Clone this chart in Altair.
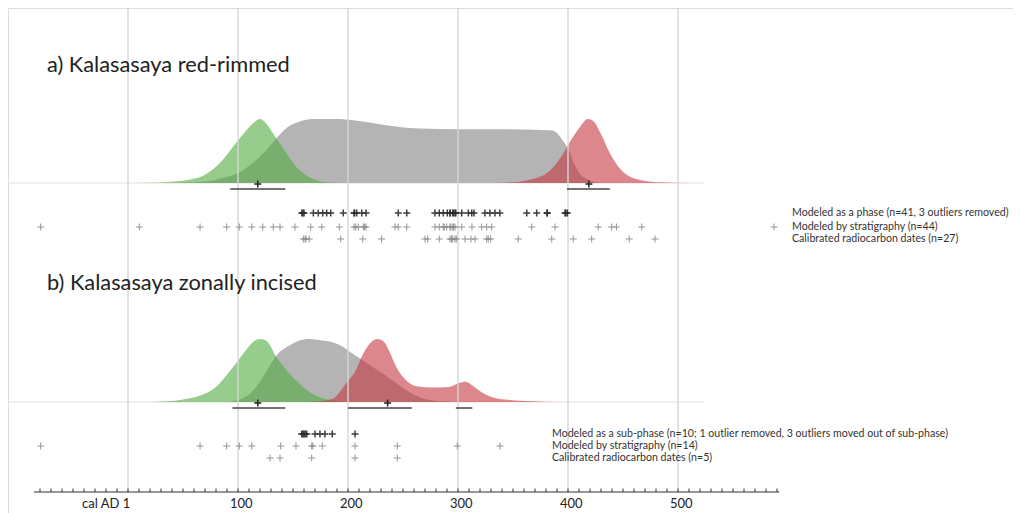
import altair as alt
import pandas as pd

# ---------------- data ----------------
# Density curves: calendar year AD and relative probability (peak = 1)
A_GREEN_YR = [0, 20, 40, 55, 70, 84, 96, 105, 113, 120, 126, 132, 136, 144, 153, 162, 172, 180, 195]
A_GREEN_P = [0, 0.005, 0.02, 0.05, 0.13, 0.32, 0.58, 0.77, 0.92, 1.0, 0.92, 0.77, 0.67, 0.47, 0.25, 0.12, 0.04, 0.01, 0]
A_GRAY_YR = [40, 60, 75, 84, 93, 102, 111, 120, 128, 135, 144, 156, 168, 190, 205, 225, 245, 265, 300, 340, 375, 386, 393, 397, 402, 406, 412, 420, 430]
A_GRAY_P = [0, 0.01, 0.03, 0.07, 0.11, 0.17, 0.28, 0.41, 0.56, 0.7, 0.86, 0.96, 1.0, 1.0, 0.98, 0.93, 0.88, 0.85, 0.84, 0.84, 0.83, 0.82, 0.72, 0.62, 0.47, 0.28, 0.12, 0.04, 0]
A_RED_YR = [335, 356, 365, 375, 384, 393, 402, 411, 418, 424, 429, 438, 447, 456, 468, 484, 510]
A_RED_P = [0, 0.02, 0.05, 0.1, 0.2, 0.39, 0.65, 0.88, 1.0, 0.95, 0.8, 0.47, 0.23, 0.1, 0.04, 0.01, 0]

B_GREEN_YR = [20, 35, 50, 65, 80, 93, 101, 108, 115, 120, 126, 135, 147, 159, 171, 184, 200]
B_GREEN_P = [0, 0.01, 0.04, 0.1, 0.24, 0.5, 0.68, 0.84, 0.97, 1.0, 0.97, 0.71, 0.45, 0.24, 0.1, 0.03, 0]
B_GRAY_YR = [90, 100, 110, 120, 128, 135, 145, 155, 165, 175, 186, 196, 204, 213, 222, 232, 242, 252, 262, 272, 285, 300]
B_GRAY_P = [0, 0.03, 0.12, 0.32, 0.55, 0.74, 0.88, 0.97, 1.0, 0.98, 0.95, 0.87, 0.77, 0.67, 0.56, 0.45, 0.32, 0.2, 0.1, 0.04, 0.01, 0]
B_RED_YR = [160, 174, 186, 198, 207, 213, 221, 227, 233, 238, 244, 253, 262, 277, 292, 301, 307, 313, 321, 332, 347, 368, 390]
B_RED_P = [0, 0.01, 0.05, 0.29, 0.5, 0.74, 0.95, 1.0, 0.95, 0.79, 0.55, 0.34, 0.25, 0.23, 0.24, 0.3, 0.32, 0.26, 0.16, 0.07, 0.03, 0.01, 0]

# Modelled ranges under the curves (from, to, median)
A_RANGE_FROM = [93, 399]
A_RANGE_TO = [143, 438]
A_RANGE_MED = [118, 419]
B_RANGE_FROM = [95, 200, 298]
B_RANGE_TO = [143, 258, 313]
B_RANGE_MED = [118, 236, None]

# Individual dates (cal AD)
A_PHASE = [158, 159, 160, 168.5, 173, 177, 180.6, 184.3, 195.7, 205.5, 206, 207.9, 212.5, 216.4,
           245.7, 253.4, 279, 283, 286.6, 290.3, 292.7, 293, 295.2, 296, 297.3, 298, 303.4, 309.4,
           312.5, 314.5, 324.5, 329, 333.6, 338, 362.5, 371.5, 381, 381.2, 397.3, 398, 399.4]
A_STRAT = [-79.4, 10.3, 65.5, 89.7, 101.2, 112.5, 122.5, 132.1, 138.2, 151.8, 166.1, 176.1, 192.1,
           205.5, 207, 209.4, 213.9, 215, 216.4, 242.7, 245.7, 253.4, 279.1, 283, 286.6, 287.5, 289.7,
           292.7, 293.5, 295.2, 296, 297.3, 303.4, 312.7, 321.5, 326.1, 330.6, 367, 388.2, 427.5,
           439.7, 467, 587.3, 444]
A_CALIB = [159.4, 161, 161.8, 164.8, 193.4, 213.4, 230.6, 270, 272.5, 283, 292.7, 294, 295.2, 297.3,
           298.5, 306.4, 311.8, 315.5, 326.1, 327.5, 329.7, 354.8, 385.2, 404.8, 421.5, 455.7, 479.1]
B_PHASE = [157.9, 159, 160, 161, 162.5, 170, 174.5, 179, 185.7, 206.4]
B_STRAT = [-79.4, 65.5, 89.7, 101.2, 112.5, 138.8, 152.7, 167, 168, 176.6, 206.4, 244.8, 299.4, 338.2]
B_CALIB = [129.1, 138.2, 167, 206.4, 244.8]

A_TITLE = "a) Kalasasaya red-rimmed"
B_TITLE = "b) Kalasasaya zonally incised"
A_LEGEND = ["Modeled as a phase (n=41, 3 outliers removed)",
            "Modeled by stratigraphy (n=44)",
            "Calibrated radiocarbon dates (n=27)"]
B_LEGEND = ["Modeled as a sub-phase (n=10; 1 outlier removed, 3 outliers moved out of sub-phase)",
            "Modeled by stratigraphy (n=14)",
            "Calibrated radiocarbon dates (n=5)"]

GRID_YEARS = [0, 100, 200, 300, 400, 500]
AXIS_LABELS = ["cal AD 1", "100", "200", "300", "400", "500"]
TICK_YEARS = list(range(-80, 600, 10))

# ---------------- layout (page pixels) ----------------
W, H = 1005, 505
PX_PER_YEAR = 1.1
X0 = (8 - 128) / PX_PER_YEAR   # year at left edge so that AD 1 sits at page x=128
X1 = X0 + W / PX_PER_YEAR
BASE_A, BASE_B = 183, 402
PEAK_A, PEAK_B = 64, 63
ROWS_A = [213, 227, 239]
ROWS_B = [434, 446, 458]
AXIS_Y = 492
FONT = "Lato"

GREEN, GRAY, RED = "#50ac3f", "#b4b4b4", "#c5373f"

xs = alt.Scale(domain=[X0, X1], nice=False, zero=False)
ys = alt.Scale(domain=[8, 8 + H], reverse=True, nice=False, zero=False)


def X(f):
    return alt.X(f, type="quantitative", scale=xs, axis=None)


def Y(f):
    return alt.Y(f, type="quantitative", scale=ys, axis=None)


def curve(yrs, ps, base, peak, color, op):
    df = pd.DataFrame({"yr": yrs, "p": ps})
    df["top"] = base - df["p"] * peak
    df["base"] = base
    return alt.Chart(df).mark_area(interpolate="monotone", color=color, opacity=op).encode(
        x=X("yr"), y=Y("top"), y2="base")


layers = []

# faint baselines
bl = pd.DataFrame({"a": [-112, -112], "b": [524, 524], "y": [BASE_A, BASE_B]})
layers.append(alt.Chart(bl).mark_rule(color="#e8dcdc", strokeWidth=1).encode(x=X("a"), x2="b", y=Y("y")))

layers += [
    curve(A_GRAY_YR, A_GRAY_P, BASE_A, PEAK_A, GRAY, 1.0),
    curve(A_GREEN_YR, A_GREEN_P, BASE_A, PEAK_A, GREEN, 0.6),
    curve(A_RED_YR, A_RED_P, BASE_A, PEAK_A, RED, 0.6),
    curve(B_GRAY_YR, B_GRAY_P, BASE_B, PEAK_B, GRAY, 1.0),
    curve(B_GREEN_YR, B_GREEN_P, BASE_B, PEAK_B, GREEN, 0.6),
    curve(B_RED_YR, B_RED_P, BASE_B, PEAK_B, RED, 0.6),
]

# vertical grid lines
grid = pd.DataFrame({"yr": GRID_YEARS, "y1": 5, "y2": AXIS_Y})
layers.append(alt.Chart(grid).mark_rule(color="#d6d6d6", strokeWidth=1.4).encode(x=X("yr"), y=Y("y1"), y2="y2"))

# range bars and medians
rng = pd.DataFrame({
    "a": A_RANGE_FROM + B_RANGE_FROM,
    "b": A_RANGE_TO + B_RANGE_TO,
    "m": A_RANGE_MED + B_RANGE_MED,
    "y": [BASE_A + 6] * len(A_RANGE_FROM) + [BASE_B + 6] * len(B_RANGE_FROM),
    "ym": [BASE_A + 1] * len(A_RANGE_FROM) + [BASE_B + 1] * len(B_RANGE_FROM),
})
layers.append(alt.Chart(rng).mark_rule(color="#444444", strokeWidth=1.5).encode(x=X("a"), x2="b", y=Y("y")))
PLUS = "M-1,0L1,0M0,-1L0,1"
layers.append(alt.Chart(rng.dropna()).mark_point(shape=PLUS, filled=False, size=49, color="#222222",
                                                 strokeWidth=1.5, opacity=1).encode(x=X("m"), y=Y("ym")))

# individual dates
rows = []
for vals, y, kind in [(A_PHASE, ROWS_A[0], "phase"), (A_STRAT, ROWS_A[1], "other"), (A_CALIB, ROWS_A[2], "other"),
                      (B_PHASE, ROWS_B[0], "phase"), (B_STRAT, ROWS_B[1], "other"), (B_CALIB, ROWS_B[2], "other")]:
    for v in vals:
        rows.append({"yr": v, "y": y, "kind": kind})
pts = pd.DataFrame(rows)
layers.append(alt.Chart(pts[pts.kind == "phase"]).mark_point(shape=PLUS, filled=False, size=49, color="#2a2a2a",
                                                             strokeWidth=1.5, opacity=0.9).encode(x=X("yr"), y=Y("y")))
layers.append(alt.Chart(pts[pts.kind == "other"]).mark_point(shape=PLUS, filled=False, size=49, color="#8a8a8a",
                                                             strokeWidth=1, opacity=0.9).encode(x=X("yr"), y=Y("y")))

# legend texts
leg = pd.DataFrame({
    "t": A_LEGEND + B_LEGEND,
    "x": [(792 - 128) / PX_PER_YEAR] * 3 + [(552 - 128) / PX_PER_YEAR] * 3,
    "y": ROWS_A + ROWS_B,
})
layers.append(alt.Chart(leg).mark_text(align="left", baseline="middle", font=FONT, fontSize=10.6,
                                       color="#333333").encode(x=X("x"), y=Y("y"), text="t"))

# panel titles
tit = pd.DataFrame({"t": [A_TITLE, B_TITLE], "x": [(47 - 128) / PX_PER_YEAR] * 2, "y": [72, 290]})
layers.append(alt.Chart(tit).mark_text(align="left", baseline="alphabetic", font=FONT, fontSize=21.8,
                                       color="#222222").encode(x=X("x"), y=Y("y"), text="t"))

# time axis
ax = pd.DataFrame({"a": [-85.5], "b": [592], "y": [AXIS_Y]})
layers.append(alt.Chart(ax).mark_rule(color="#333333", strokeWidth=1.2).encode(x=X("a"), x2="b", y=Y("y")))
tk = pd.DataFrame({"yr": TICK_YEARS, "y1": AXIS_Y - 3.5, "y2": AXIS_Y})
layers.append(alt.Chart(tk).mark_rule(color="#333333", strokeWidth=1).encode(x=X("yr"), y=Y("y1"), y2="y2"))
lab = pd.DataFrame({"t": AXIS_LABELS, "yr": GRID_YEARS, "y": AXIS_Y + 16})
lab["yr2"] = lab["yr"] + pd.Series([2, 3, 3, 3, 3, 3])
layers.append(alt.Chart(lab.iloc[:1]).mark_text(align="right", baseline="alphabetic", font=FONT, fontSize=13,
                                                color="#222222").encode(x=X("yr2"), y=Y("y"), text="t"))
layers.append(alt.Chart(lab.iloc[1:]).mark_text(align="center", baseline="alphabetic", font=FONT, fontSize=13,
                                                color="#222222").encode(x=X("yr2"), y=Y("y"), text="t"))

chart = alt.layer(*layers).properties(
    width=W, height=H, autosize=alt.AutoSizeParams(type="none"), padding=0
).configure_view(stroke=None).configure(background="white")

chart.save("out.html", embed_options={"renderer": "svg", "actions": False})
